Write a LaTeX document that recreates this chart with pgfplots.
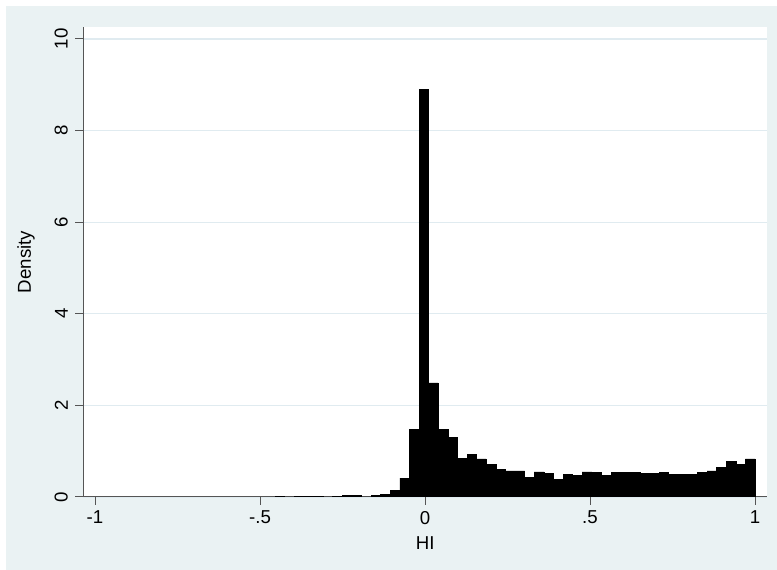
\documentclass[border=0pt]{standalone}
\usepackage{fontspec}
\setmainfont{Liberation Sans}
\usepackage{pgfplots}
\pgfplotsset{compat=1.18}
\definecolor{stbg}{RGB}{234,242,243}
\definecolor{stgrid}{RGB}{224,235,240}
\definecolor{staxis}{RGB}{85,85,85}
\begin{document}
\begin{tikzpicture}
\path[use as bounding box] (0,0) rectangle (582.75pt,427.5pt);
\fill[white] (0,0) rectangle (582.75pt,427.5pt);
\fill[stbg] (4.5pt,0) rectangle (582.75pt,423pt);
\begin{axis}[
  at={(62.475pt,54.75pt)}, anchor=south west,
  scale only axis, width=512.775pt, height=352.5pt,
  xmin=-1.0355, xmax=1.0364, ymin=0, ymax=10.26,
  axis background/.style={fill=white},
  axis x line*=bottom, axis y line*=left,
  axis line style={staxis, line width=0.75pt, -},
  tick style={staxis, line width=0.75pt},
  tick align=outside, major tick length=6pt,
  xtick={-1,-0.5,0,0.5,1}, xticklabels={-1,-.5,0,.5,1},
  ytick={0,2,4,6,8,10}, yticklabels={0,2,4,6,8,10},
  yticklabel style={rotate=90, anchor=south},
  xticklabel shift=1pt, yticklabel shift=2pt,
  ymajorgrids, grid style={stgrid, line width=0.9pt},
  font=\fontsize{14}{17}\selectfont,
  ticklabel style={font=\fontsize{14}{17}\selectfont},
  xlabel={HI}, ylabel={Density},
  every axis x label/.style={at={(axis description cs:0.5,-0.0979)}, anchor=center},
  every axis y label/.style={at={(axis description cs:-0.0838,0.5)}, rotate=90, anchor=center},
]
\addplot[ybar interval, fill=black, draw=black, line width=0.4pt] coordinates {
(-0.4545,0.02) (-0.4254,0) (-0.3963,0.02) (-0.3672,0.02) (-0.3381,0.02)
(-0.3091,0) (-0.2800,0.02) (-0.2509,0.04) (-0.2218,0.04) (-0.1927,0)
(-0.1636,0.04) (-0.1345,0.05) (-0.1054,0.15) (-0.0763,0.41) (-0.0472,1.48)
(-0.0181,8.9) (0.0109,2.49) (0.0400,1.48) (0.0691,1.30) (0.0982,0.84)
(0.1273,0.93) (0.1564,0.83) (0.1855,0.71) (0.2146,0.60) (0.2437,0.57)
(0.2728,0.57) (0.3019,0.43) (0.3309,0.55) (0.3600,0.52) (0.3891,0.39)
(0.4182,0.50) (0.4473,0.47) (0.4764,0.55) (0.5055,0.54) (0.5346,0.47)
(0.5637,0.54) (0.5928,0.54) (0.6218,0.54) (0.6509,0.51) (0.6800,0.51)
(0.7091,0.54) (0.7382,0.50) (0.7673,0.50) (0.7964,0.50) (0.8255,0.54)
(0.8546,0.57) (0.8837,0.65) (0.9127,0.77) (0.9418,0.71) (0.9709,0.83)
(1.0000,0.83)
};
\end{axis}
\end{tikzpicture}
\end{document}
